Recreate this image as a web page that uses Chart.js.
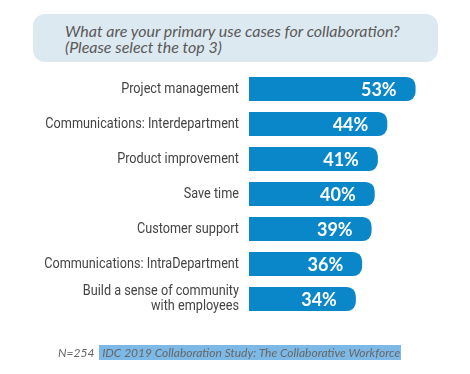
<!DOCTYPE html>
<html>
<head>
<meta charset="utf-8">
<script src="https://cdn.jsdelivr.net/npm/chart.js@4.4.1/dist/chart.umd.min.js"></script>
<style>
  html, body { margin: 0; padding: 0; background: #fff; }
  #wrap { position: relative; width: 470px; height: 374px; overflow: hidden; }
  #c { position: absolute; left: 0; top: 0; }
  #title {
    position: absolute; left: 33px; top: 14px; width: 405px; height: 48px;
    background: #dde9f1; border-radius: 12px; box-sizing: border-box;
    padding: 9px 0 0 32px; font-family: Lato, "Open Sans", sans-serif; font-style: italic;
    font-size: 16px; line-height: 15.5px; color: #595959;
  }
  #footer {
    position: absolute; left: 58px; top: 344px; height: 17px;
    font-family: Lato, "Open Sans", sans-serif; font-style: italic; font-size: 12px; color: #666;
    line-height: 17px; white-space: nowrap;
  }
  #footer .src { background: #7db9e7; padding: 0 1px 0 3px; margin-left: 2px; }
</style>
</head>
<body>
<div id="wrap">
  <canvas id="c" width="470" height="374"></canvas>
  <div id="title">What are your primary use cases for collaboration?<br>(Please select the top 3)</div>
  <div id="footer">N=254 <span class="src">IDC 2019 Collaboration Study: The Collaborative Workforce</span></div>
</div>
<script>
const categories = [
  "Project management",
  "Communications: Interdepartment",
  "Product improvement",
  "Save time",
  "Customer support",
  "Communications: IntraDepartment",
  ["Build a sense of community", "with employees"]
];
const values = [53, 44, 41, 40, 39, 36, 34];

const valueLabels = {
  id: 'valueLabels',
  afterDatasetsDraw(chart) {
    const ctx = chart.ctx;
    const meta = chart.getDatasetMeta(0);
    ctx.save();
    ctx.fillStyle = '#ffffff';
    ctx.font = 'bold 18px Lato, "Open Sans", sans-serif';
    ctx.textAlign = 'right';
    ctx.textBaseline = 'middle';
    meta.data.forEach((bar, i) => {
      ctx.fillText(values[i] + '%', bar.x - 19, bar.y + 1);
    });
    ctx.restore();
  }
};

// category labels drawn in a condensed style (horizontally compressed Roboto)
const catLabels = {
  id: 'catLabels',
  afterDraw(chart) {
    const ctx = chart.ctx;
    const y = chart.scales.y;
    const squeeze = 0.845;
    const rightX = y.right - 10;
    ctx.save();
    ctx.fillStyle = '#444';
    ctx.font = '15px Roboto, sans-serif';
    ctx.textAlign = 'right';
    ctx.textBaseline = 'middle';
    categories.forEach((lab, i) => {
      const cy = y.getPixelForValue(i);
      const lines = Array.isArray(lab) ? lab : [lab];
      const lh = 15;
      lines.forEach((ln, j) => {
        const ly = cy + (j - (lines.length - 1) / 2) * lh;
        ctx.save();
        ctx.translate(rightX, ly);
        ctx.scale(squeeze, 1);
        ctx.fillText(ln, 0, 0);
        ctx.restore();
      });
    });
    ctx.restore();
  }
};

new Chart(document.getElementById('c'), {
  type: 'bar',
  data: {
    labels: categories,
    datasets: [{
      data: values,
      backgroundColor: '#0a87c9',
      borderWidth: 0,
      borderRadius: { topRight: 9, bottomRight: 9, topLeft: 0, bottomLeft: 0 },
      borderSkipped: 'left',
      categoryPercentage: 1,
      barPercentage: 0.69
    }]
  },
  options: {
    indexAxis: 'y',
    responsive: false,
    animation: false,
    layout: { padding: { left: 0, right: 1, top: 71.5, bottom: 57.5 } },
    plugins: { legend: { display: false }, tooltip: { enabled: false }, title: { display: false } },
    scales: {
      x: { display: false, min: 0, max: 70 },
      y: {
        afterFit(scale) { scale.width = 249; },
        grid: { display: false, drawTicks: false },
        border: { display: false },
        ticks: { display: false }
      }
    }
  },
  plugins: [valueLabels, catLabels]
});
</script>
</body>
</html>
